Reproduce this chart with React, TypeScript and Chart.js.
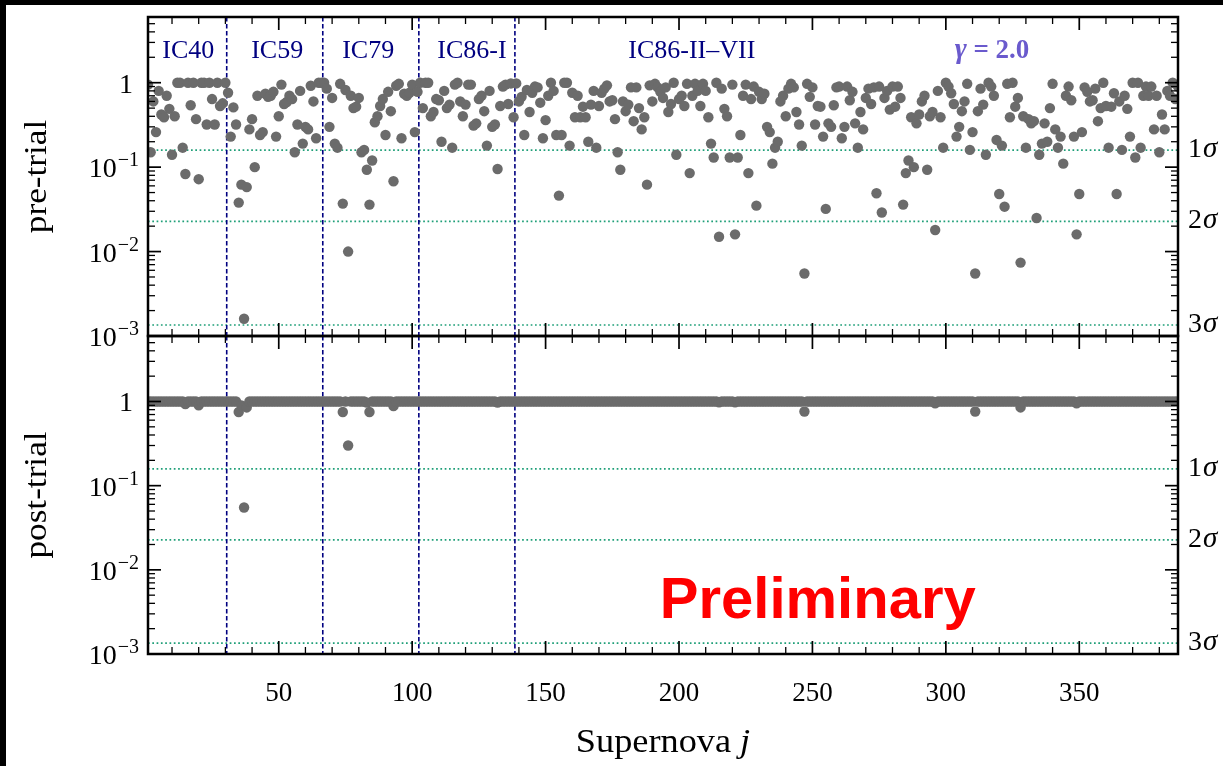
import React, { useEffect, useRef } from 'react';
import { Chart, registerables } from 'chart.js';

Chart.register(...registerables);

// ------------------------------------------------------------------
// Data: pre-trial and post-trial p-values per supernova, per sample
// ------------------------------------------------------------------
const preIC40 = [
  0.95, 0.15, 0.6, 0.26, 0.8, 0.42, 0.39, 0.7, 0.49, 0.14,
  0.4, 1.0, 1.0, 0.17, 0.083, 1.0, 0.54, 1.0, 0.37, 0.072,
  1.0, 1.0, 0.32, 1.0, 0.64, 0.32, 1.0, 0.53, 0.57, 1.0,
];
const preIC59 = [
  0.76, 0.23, 0.51, 0.32, 0.038, 0.062, 0.0016, 0.058, 0.28, 0.37,
  0.1, 0.7, 0.24, 0.26, 0.74, 0.68, 0.7, 0.78, 0.23, 0.4,
  0.95, 0.56, 0.59, 0.7, 0.64, 0.15, 0.32, 0.8, 0.19, 0.3,
  0.28, 0.92, 0.6, 0.22, 1.0, 1.0,
];
const preIC79 = [
  1.0, 0.85, 0.3, 0.66, 0.19, 0.17, 0.97, 0.037, 0.82, 0.01,
  0.7, 0.5, 0.52, 0.66, 0.15, 0.16, 0.093, 0.036, 0.12, 0.34,
  0.4, 0.53, 0.64, 0.24, 0.78, 0.46, 0.068, 0.92, 0.97, 0.22,
  0.74, 0.7, 0.76, 0.95, 0.26, 0.78,
];
const preIC86I = [
  1.0, 0.5, 1.0, 1.0, 0.4, 0.45, 0.64, 0.62, 0.2, 0.8,
  0.5, 0.55, 0.17, 0.95, 1.0, 0.6, 0.4, 0.55, 0.95, 0.95,
  0.31, 0.33, 0.64, 0.7, 0.46, 0.18, 0.8, 0.3, 0.32, 0.095,
  0.53, 0.9, 0.95, 0.56, 0.98, 0.39,
];
const preIC86II = [
  0.98, 0.6, 0.68, 0.24, 0.82, 0.45, 0.76, 0.9, 0.88, 0.58,
  0.22, 0.36, 0.7, 1.0, 0.8, 0.24, 0.046, 0.24, 1.0, 1.0,
  0.18, 0.76, 0.39, 0.7, 0.39, 0.52, 0.39, 0.2, 0.55, 0.8,
  0.17, 0.53, 0.76, 0.85, 0.93, 0.6, 0.62, 0.37, 0.15, 0.093,
  0.6, 0.46, 0.55, 0.88, 0.35, 0.88, 0.5, 0.28, 0.39, 0.062,
  0.93, 0.6, 0.97, 0.88, 0.78, 0.66, 0.88, 0.45, 0.56, 1.0,
  0.14, 0.64, 0.7, 0.53, 0.97, 0.085, 0.7, 0.97, 0.8, 0.53,
  0.97, 0.8, 0.39, 0.19, 0.13, 1.0, 0.015, 0.85, 0.49, 0.4,
  0.13, 0.95, 0.016, 0.13, 0.24, 0.7, 0.95, 0.085, 0.64, 0.9,
  0.035, 0.78, 0.64, 0.74, 0.3, 0.26, 0.11, 0.17, 0.2, 0.6,
  0.7, 0.4, 0.85, 0.97, 0.88, 0.45, 0.32, 0.18, 0.0055, 0.97,
  0.68, 0.88, 0.32, 0.53, 0.52, 0.23, 0.032, 0.33, 0.3, 0.54,
  0.88, 0.9, 0.22, 0.3, 0.9, 0.62, 0.78, 0.33, 0.17, 0.45,
  0.28, 0.66, 0.85, 0.56, 0.88, 0.049, 0.9, 0.029, 0.66, 0.8,
  0.48, 0.9, 0.52, 0.9, 0.66, 0.036, 0.085, 0.12, 0.39, 0.1,
  0.33, 0.42, 0.6, 0.7, 0.093, 0.4, 0.45, 0.018, 0.8, 0.39,
  0.17, 1.0, 0.9, 0.75, 0.56, 0.23, 0.3, 0.46, 0.6, 0.97,
  0.16, 0.26, 0.0055, 0.46, 0.85, 0.55, 0.14, 1.0, 0.9, 0.7,
  0.21, 0.048, 0.18, 0.034, 0.97, 0.39, 1.0, 0.52, 0.66, 0.0074,
  0.4, 0.17, 0.37, 0.33, 0.35, 0.025, 0.14, 0.19, 0.33, 0.2,
  0.5, 0.97, 0.28, 0.17, 0.23, 0.11, 0.7, 0.9, 0.62, 0.23,
  0.016, 0.048, 0.26, 0.88, 0.78, 0.6, 0.62, 0.85, 0.35, 0.5,
  1.0, 0.53, 0.17, 0.52, 0.75, 0.048, 0.6, 0.16, 0.7, 0.49,
  0.23, 1.0, 0.13, 1.0, 0.17, 0.7, 0.9, 0.7, 0.9, 0.28,
  0.7, 0.15, 0.42, 0.28, 0.8, 0.7, 1.0, 0.64, 0.9,
];

const postIC40 = [
  1, 1, 1, 1, 1, 1, 1, 1, 1, 1,
  1, 1, 1, 1, 0.93, 1, 1, 1, 1, 0.9,
  1, 1, 1, 1, 1, 1, 1, 1, 1, 1,
];
const postIC59 = [
  1, 1, 1, 1, 0.75, 0.9, 0.055, 0.85, 1, 1,
  1, 1, 1, 1, 1, 1, 1, 1, 1, 1,
  1, 1, 1, 1, 1, 1, 1, 1, 1, 1,
  1, 1, 1, 1, 1, 1,
];
const postIC79 = [
  1, 1, 1, 1, 1, 1, 1, 0.75, 1, 0.3,
  1, 1, 1, 1, 1, 1, 0.97, 0.75, 1, 1,
  1, 1, 1, 1, 1, 1, 0.88, 1, 1, 1,
  1, 1, 1, 1, 1, 1,
];
const postIC86I = [
  1, 1, 1, 1, 1, 1, 1, 1, 1, 1,
  1, 1, 1, 1, 1, 1, 1, 1, 1, 1,
  1, 1, 1, 1, 1, 1, 1, 1, 1, 0.97,
  1, 1, 1, 1, 1, 1,
];
const postIC86II = [
  1, 1, 1, 1, 1, 1, 1, 1, 1, 1, 1, 1, 1, 1, 1, 1, 1, 1, 1, 1,
  1, 1, 1, 1, 1, 1, 1, 1, 1, 1, 1, 1, 1, 1, 1, 1, 1, 1, 1, 1,
  1, 1, 1, 1, 1, 1, 1, 1, 1, 1, 1, 1, 1, 1, 1, 1, 1, 1, 1, 1,
  1, 1, 1, 1, 1, 1, 1, 1, 1, 1, 1, 1, 1, 1, 1, 1, 0.98, 1, 1, 1,
  1, 1, 0.98, 1, 1, 1, 1, 1, 1, 1, 1, 1, 1, 1, 1, 1, 1, 1, 1, 1,
  1, 1, 1, 1, 1, 1, 1, 1, 0.76, 1, 1, 1, 1, 1, 1, 1, 1, 1, 1, 1,
  1, 1, 1, 1, 1, 1, 1, 1, 1, 1, 1, 1, 1, 1, 1, 1, 1, 1, 1, 1,
  1, 1, 1, 1, 1, 1, 1, 1, 1, 1, 1, 1, 1, 1, 1, 1, 1, 0.95, 1, 1,
  1, 1, 1, 1, 1, 1, 1, 1, 1, 1, 1, 1, 0.76, 1, 1, 1, 1, 1, 1, 1,
  1, 1, 1, 1, 1, 1, 1, 1, 1, 0.85, 1, 1, 1, 1, 1, 1, 1, 1, 1, 1,
  1, 1, 1, 1, 1, 1, 1, 1, 1, 1, 0.95, 1, 1, 1, 1, 1, 1, 1, 1, 1,
  1, 1, 1, 1, 1, 1, 1, 1, 1, 1, 1, 1, 1, 1, 1, 1, 1, 1, 1, 1,
  1, 1, 1, 1, 1, 1, 1, 1, 1,
];

const samplePre = [preIC40, preIC59, preIC79, preIC86I, preIC86II];
const samplePost = [postIC40, postIC59, postIC79, postIC86I, postIC86II];
const sampleNames = ['IC40', 'IC59', 'IC79', 'IC86-I', 'IC86-II\u2013VII'];
const sampleLabelJ = [16.1, 49.4, 83.5, 122.4, 204.8];

const preTrial = samplePre.flat();
const postTrial = samplePost.flat();

const sigmaNames = ['1', '2', '3'];
const sigmaPValues = [0.158655, 0.0227501, 0.0013499];
const xMajorTicks = [50, 100, 150, 200, 250, 300, 350];
const yDecadeExponents = [0, -1, -2, -3];
const gammaValue = '2.0';

// ------------------------------------------------------------------
const SERIF = '"Liberation Serif", "Times New Roman", serif';
const SANS = '"Liberation Sans", Arial, sans-serif';
const SIGMA_COLOR = '#1f9f78';
const NAVY = '#000080';
const DOT = '#6b6b6b';

type Panel = 'top' | 'bottom';

function sampleEdges(): number[] {
  const edges: number[] = [];
  let n = 0;
  for (let i = 0; i < samplePre.length - 1; i++) {
    n += samplePre[i].length;
    edges.push(n + 0.5);
  }
  return edges;
}

function drawPowLabel(ctx: CanvasRenderingContext2D, exp: number, xRight: number, yTick: number) {
  ctx.fillStyle = '#000';
  ctx.textAlign = 'right';
  ctx.textBaseline = 'alphabetic';
  if (exp === 0) {
    ctx.font = `28px ${SERIF}`;
    ctx.fillText('1', xRight - 6, yTick + 10);
    return;
  }
  const sup = '\u2212' + String(-exp);
  ctx.font = `20px ${SERIF}`;
  const supW = ctx.measureText(sup).width;
  ctx.fillText(sup, xRight, yTick - 1);
  ctx.font = `28px ${SERIF}`;
  ctx.fillText('10', xRight - supW - 1, yTick + 10);
}

function makePlugin(panel: Panel) {
  return {
    id: 'decor_' + panel,
    beforeDatasetsDraw(chart: any) {
      const { ctx, chartArea: a } = chart;
      const xs = chart.scales.x;
      const ys = chart.scales.y;
      ctx.save();
      ctx.lineWidth = 1.7;
      ctx.strokeStyle = SIGMA_COLOR;
      ctx.setLineDash([1.7, 2.6]);
      sigmaPValues.forEach((p) => {
        const py = ys.getPixelForValue(p);
        ctx.beginPath();
        ctx.moveTo(a.left, py);
        ctx.lineTo(a.right, py);
        ctx.stroke();
      });
      ctx.strokeStyle = NAVY;
      ctx.lineWidth = 1.6;
      ctx.setLineDash([4.5, 2.5]);
      sampleEdges().forEach((e) => {
        const px = xs.getPixelForValue(e);
        ctx.beginPath();
        ctx.moveTo(px, a.top);
        ctx.lineTo(px, a.bottom);
        ctx.stroke();
      });
      ctx.restore();
    },
    afterDatasetsDraw(chart: any) {
      const { ctx, chartArea: a } = chart;
      const xs = chart.scales.x;
      const ys = chart.scales.y;
      ctx.save();
      ctx.setLineDash([]);
      ctx.strokeStyle = '#000';
      const seg = (x1: number, y1: number, x2: number, y2: number) => {
        ctx.beginPath();
        ctx.moveTo(x1, y1);
        ctx.lineTo(x2, y2);
        ctx.stroke();
      };
      // x ticks (inward, top & bottom)
      for (let v = 10; v < xs.max; v += 10) {
        const px = xs.getPixelForValue(v);
        const major = xMajorTicks.includes(v);
        const len = major ? 13 : 7;
        ctx.lineWidth = major ? 1.7 : 1.3;
        seg(px, a.top, px, a.top + len);
        seg(px, a.bottom, px, a.bottom - len);
      }
      // y ticks (inward, left & right)
      yDecadeExponents.forEach((d) => {
        for (let m = 1; m <= 9; m++) {
          const v = m * Math.pow(10, d);
          if (v >= ys.max) break;
          const py = ys.getPixelForValue(v);
          const major = m === 1;
          const len = major ? 13 : 7;
          ctx.lineWidth = major ? 1.7 : 1.3;
          seg(a.left, py, a.left + len, py);
          seg(a.right, py, a.right - len, py);
        }
      });
      // frame
      ctx.lineWidth = 2.5;
      ctx.strokeRect(a.left, a.top, a.right - a.left, a.bottom - a.top);

      // y tick labels
      yDecadeExponents.forEach((d) => {
        drawPowLabel(ctx, d, a.left - 9, ys.getPixelForValue(Math.pow(10, d)));
      });

      // sigma labels at right
      sigmaPValues.forEach((p, i) => {
        const py = ys.getPixelForValue(p);
        ctx.fillStyle = '#000';
        ctx.textAlign = 'left';
        ctx.textBaseline = 'alphabetic';
        ctx.font = `28px ${SERIF}`;
        const n = sigmaNames[i];
        ctx.fillText(n, a.right + 10, py + 7);
        const w = ctx.measureText(n).width;
        ctx.font = `italic 29px ${SERIF}`;
        ctx.fillText('\u03c3', a.right + 10 + w + 1, py + 7);
      });

      // y axis title
      ctx.save();
      ctx.translate(38, (a.top + a.bottom) / 2);
      ctx.rotate(-Math.PI / 2);
      ctx.textAlign = 'center';
      ctx.textBaseline = 'middle';
      ctx.fillStyle = '#000';
      ctx.font = `32px ${SERIF}`;
      ctx.scale(1.1, 1);
      ctx.fillText(panel === 'top' ? 'pre-trial' : 'post-trial', 0, 0);
      ctx.restore();

      if (panel === 'top') {
        ctx.fillStyle = NAVY;
        ctx.textAlign = 'center';
        ctx.textBaseline = 'alphabetic';
        ctx.font = `26px ${SERIF}`;
        sampleNames.forEach((name, i) => {
          ctx.fillText(name, xs.getPixelForValue(sampleLabelJ[i]), a.top + 41);
        });
        // gamma label
        const gx = xs.getPixelForValue(317.3);
        const gy = a.top + 41;
        ctx.fillStyle = '#6a5acd';
        ctx.font = `bold italic 29px ${SERIF}`;
        const g = '\u03b3';
        const rest = ' = ' + gammaValue;
        const gw = ctx.measureText(g).width;
        ctx.font = `bold 27px ${SERIF}`;
        const rw = ctx.measureText(rest).width;
        const x0 = gx - (gw + rw) / 2;
        ctx.textAlign = 'left';
        ctx.font = `bold italic 29px ${SERIF}`;
        ctx.fillText(g, x0, gy);
        ctx.font = `bold 27px ${SERIF}`;
        ctx.fillText(rest, x0 + gw, gy);
      } else {
        // x tick labels
        ctx.fillStyle = '#000';
        ctx.textAlign = 'center';
        ctx.textBaseline = 'alphabetic';
        ctx.font = `27px ${SERIF}`;
        xMajorTicks.forEach((t) => {
          ctx.fillText(String(t), xs.getPixelForValue(t), a.bottom + 47);
        });
        // x title
        ctx.font = `33px ${SERIF}`;
        const t1 = 'Supernova ';
        const w1 = ctx.measureText(t1).width * 1.1;
        ctx.font = `italic 33px ${SERIF}`;
        const w2 = ctx.measureText('j').width * 1.1;
        const cx = (a.left + a.right) / 2;
        const left = cx - (w1 + w2) / 2;
        ctx.save();
        ctx.translate(left, a.bottom + 98);
        ctx.scale(1.1, 1);
        ctx.textAlign = 'left';
        ctx.font = `33px ${SERIF}`;
        ctx.fillText(t1, 0, 0);
        ctx.font = `italic 33px ${SERIF}`;
        ctx.fillText('j', w1 / 1.1, 0);
        ctx.restore();
        // Preliminary
        ctx.fillStyle = '#ff0000';
        ctx.textAlign = 'center';
        ctx.font = `bold 58px ${SANS}`;
        ctx.fillText('Preliminary', xs.getPixelForValue(252), a.bottom - 36);
      }
      ctx.restore();
    },
  };
}

function makePanel(canvas: HTMLCanvasElement, values: number[], panel: Panel) {
  const data = values.map((v, i) => ({ x: i + 1, y: v }));
  const top = panel === 'top' ? 17 : 336;
  const bottom = panel === 'top' ? 766 - 336 : 766 - 654;
  return new Chart(canvas, {
    type: 'scatter',
    data: {
      datasets: [
        {
          data,
          pointRadius: 5.2,
          pointHoverRadius: 5.2,
          pointBackgroundColor: DOT,
          pointBorderWidth: 0,
          borderWidth: 0,
          clip: 0,
        } as any,
      ],
    },
    options: {
      animation: false,
      responsive: false,
      events: [],
      layout: { padding: { left: 148, right: 45, top, bottom } },
      plugins: { legend: { display: false }, tooltip: { enabled: false } },
      scales: {
        x: { type: 'linear', min: 1, max: preTrial.length, display: false },
        y: { type: 'logarithmic', min: 1e-3, max: 6, display: false },
      },
    },
    plugins: [makePlugin(panel)],
  });
}

export default function App() {
  const topRef = useRef<HTMLCanvasElement>(null);
  const botRef = useRef<HTMLCanvasElement>(null);
  useEffect(() => {
    const b = makePanel(botRef.current!, postTrial, 'bottom');
    const t = makePanel(topRef.current!, preTrial, 'top');
    return () => {
      t.destroy();
      b.destroy();
    };
  }, []);
  return (
    <div style={{ position: 'fixed', left: 0, top: 0, width: 1223, height: 766, background: '#fff', overflow: 'hidden' }}>
      <canvas ref={botRef} width={1223} height={766} style={{ position: 'absolute', left: 0, top: 0 }} />
      <canvas ref={topRef} width={1223} height={766} style={{ position: 'absolute', left: 0, top: 0 }} />
      <div style={{ position: 'absolute', left: 0, top: 0, width: 1223, height: 5, background: '#000' }} />
      <div style={{ position: 'absolute', left: 0, top: 0, width: 6, height: 766, background: '#000' }} />
    </div>
  );
}
